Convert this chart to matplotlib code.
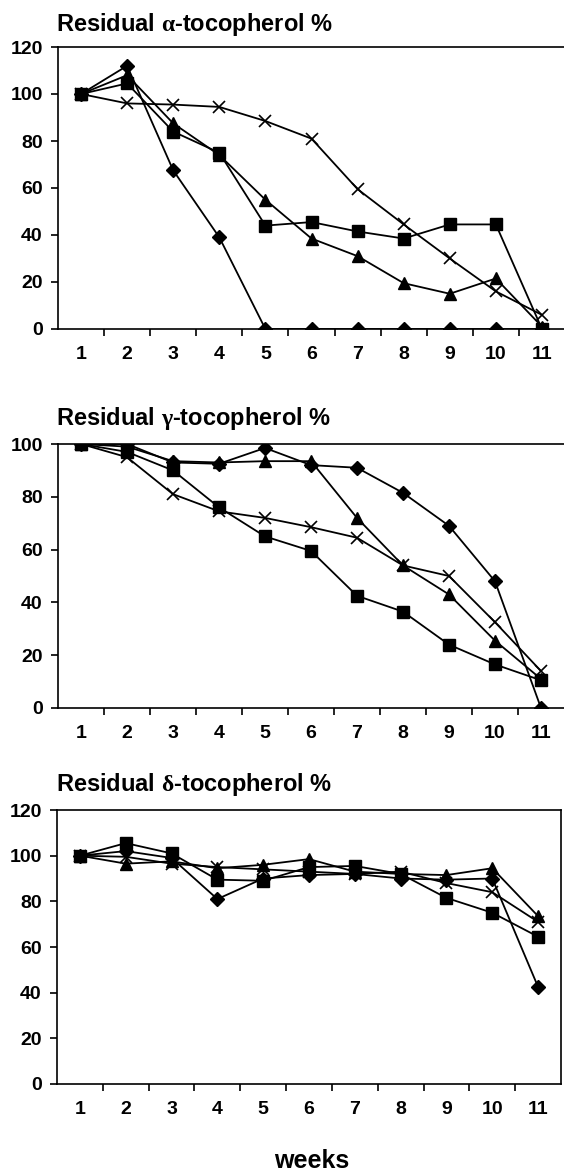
import matplotlib
matplotlib.use("Agg")
import matplotlib.pyplot as plt
from matplotlib.ticker import FixedLocator

plt.rcParams['font.family'] = ['Liberation Sans', 'DejaVu Sans']
plt.rcParams['font.weight'] = 'bold'
# greek letters in the titles: upright serif, like the Symbol font of the original
plt.rcParams['mathtext.fontset'] = 'custom'
plt.rcParams['mathtext.rm'] = 'Liberation Serif'
plt.rcParams['mathtext.it'] = 'Liberation Serif'

weeks = [1, 2, 3, 4, 5, 6, 7, 8, 9, 10, 11]

# alpha-tocopherol
alpha_diamond = [100, 112, 67.5, 39, 0, 0, 0, 0, 0, 0, 0]
alpha_square = [100, 104.5, 84, 75, 44, 45.5, 41.5, 38.5, 44.5, 44.5, 0]
alpha_triangle = [100, 108, 87.5, 74, 55, 38.5, 31, 19.5, 15, 21.5, 1]
alpha_x = [100, 96, 95.5, 94.5, 88.5, 81, 59.5, 44.5, 30, 16, 6]

# gamma-tocopherol
gamma_diamond = [100, 100, 93, 92.5, 98.5, 92, 91, 81.5, 69, 48, 0]
gamma_square = [100, 97, 90, 76, 65, 59.5, 42.5, 36.5, 24, 16.5, 10.5]
gamma_triangle = [100, 99, 93.5, 93, 93.5, 93.5, 72, 54, 43, 25.5, 11]
gamma_x = [100, 95, 81, 74.5, 72, 68.5, 64.5, 54, 50, 32.5, 14]

# delta-tocopherol
delta_diamond = [100, 102, 99, 81, 90, 91.5, 92, 90, 89.5, 90, 42.5]
delta_square = [100, 105.5, 101, 89.5, 89, 95, 95.5, 92, 81.5, 75, 64.5]
delta_triangle = [100, 96.5, 97.5, 94.5, 96, 98.5, 93, 92, 91.5, 94.5, 73.5]
delta_x = [100, 99.5, 96.5, 95, 94, 93, 92, 93, 88, 84, 71]

titles = [r'Residual $\alpha$-tocopherol %',
          r'Residual $\gamma$-tocopherol %',
          r'Residual $\delta$-tocopherol %']

W, H = 564, 1174
fig = plt.figure(figsize=(W / 100, H / 100), dpi=100)


def add_panel(left, right, top, bottom):
    return fig.add_axes([left / W, 1 - bottom / H, (right - left) / W, (bottom - top) / H])


panels = [
    (add_panel(58, 565, 47, 329), [alpha_diamond, alpha_square, alpha_triangle, alpha_x], 120, 25),
    (add_panel(58, 564, 444, 708), [gamma_diamond, gamma_square, gamma_triangle, gamma_x], 100, 419),
    (add_panel(57, 561, 810, 1084), [delta_diamond, delta_square, delta_triangle, delta_x], 120, 785),
]

for i, (ax, series, ymax, title_y) in enumerate(panels):
    d, s, t, x = series
    ax.plot(weeks, d, color='black', lw=1.3, marker='D', ms=7, zorder=3)
    ax.plot(weeks, s, color='black', lw=1.3, marker='s', ms=8.5, zorder=3)
    ax.plot(weeks, t, color='black', lw=1.3, marker='^', ms=9, zorder=3)
    ax.plot(weeks, x, color='black', lw=1.3, marker='x', ms=9, mew=1.2, zorder=3)

    ax.set_xlim(0.5, 11.5)
    ax.set_ylim(0, ymax)
    ax.set_yticks(range(0, ymax + 1, 20))
    ax.set_xticks(weeks)
    ax.xaxis.set_minor_locator(FixedLocator([w + 0.5 for w in weeks[:-1]]))
    ax.tick_params(axis='x', which='major', length=0, pad=12, labelsize=14)
    ax.tick_params(axis='x', which='minor', length=5, width=1.2, direction='out')
    ax.tick_params(axis='y', length=5, width=1.2, direction='out', pad=6, labelsize=14)
    for lab in ax.get_xticklabels() + ax.get_yticklabels():
        lab.set_fontweight('bold')
    for sp in ax.spines.values():
        sp.set_linewidth(1.2)
    if i < 2:
        ax.spines['right'].set_visible(False)

    fig.text(56 / W, 1 - title_y / H, titles[i], fontsize=17, fontweight='bold',
             ha='left', va='center')

fig.text(312 / W, 1 - 1161 / H, 'weeks', fontsize=18, fontweight='bold',
         ha='center', va='center')

fig.savefig('out.png', dpi=100)
